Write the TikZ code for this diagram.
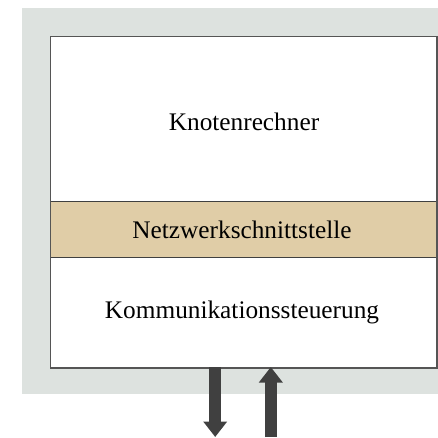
\documentclass[tikz,border=0pt]{standalone}
\usepackage{fontspec}
\setmainfont{Liberation Serif}
\usetikzlibrary{arrows.meta}
\definecolor{bggray}{RGB}{221,226,223}
\definecolor{bandtan}{RGB}{224,205,167}
\definecolor{arrowgray}{RGB}{64,64,64}
\definecolor{framegray}{RGB}{85,85,85}
\tikzset{
  lbl/.style={font=\fontsize{25.3}{30}\selectfont, anchor=base, inner sep=0pt},
  flowarrow/.style={draw=arrowgray, line width=11.7pt,
    -{Triangle[width=23pt 0 0, length=15.5pt 0 0, fill=arrowgray]}},
  bandline/.style={draw=arrowgray, line width=1pt}
}
\begin{document}
\begin{tikzpicture}[x=1pt,y=-1pt]
\useasboundingbox (0,0) rectangle (438,437);
\fill[bggray] (22,8) rectangle (438,394);
\node[draw=framegray, line width=1pt, fill=white, anchor=north west, minimum width=386pt, minimum height=331pt, inner sep=0pt] (box) at (50,36) {};
\node[fill=bandtan, anchor=north west, minimum width=385pt, minimum height=55pt, inner sep=0pt] (band) at (50.5,201.7) {};
\draw[bandline] (band.north west) -- (band.north east);
\draw[bandline] (band.south west) -- (band.south east);
\draw[framegray, line width=1pt] (box.north west) rectangle (box.south east);
\node[lbl] (kr) at (244,130) {Knotenrechner};
\node[lbl] (nw) at (242,238.5) {Netzwerkschnittstelle};
\node[lbl] (ks) at (242,318.5) {Kommunikationssteuerung};
\coordinate (dtop) at (215.2,367);
\coordinate (dbot) at (215.2,437);
\coordinate (utop) at (270.8,367);
\coordinate (ubot) at (270.8,437);
\draw[flowarrow] (dtop) -- (dbot);
\draw[flowarrow] (ubot) -- (utop);
\end{tikzpicture}
\end{document}
